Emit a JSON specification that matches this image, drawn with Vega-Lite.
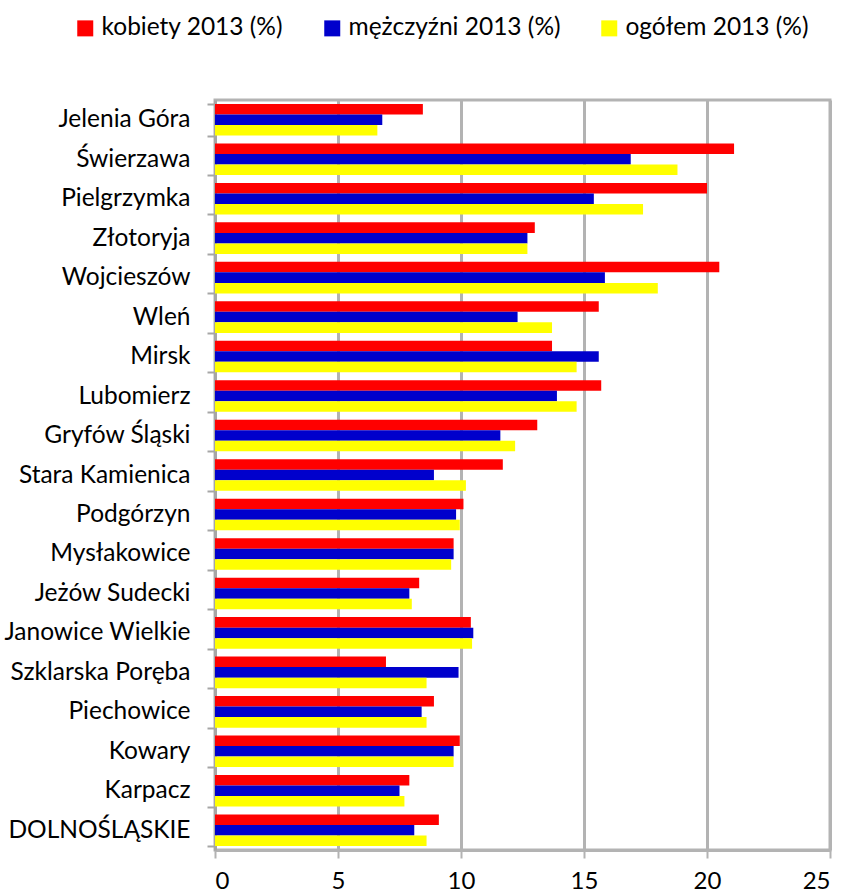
{
  "$schema": "https://vega.github.io/schema/vega-lite/v6.json",
  "width": 615,
  "height": 750,
  "autosize": {"type": "none"},
  "padding": {"left": 215, "top": 100, "right": 25, "bottom": 46},
  "background": "white",
  "config": {
    "font": "Lato",
    "view": {"stroke": "#b3b3b3", "strokeWidth": 3}
  },
  "data": {
    "values": [
      {"gmina": "Jelenia Góra", "series": "kobiety 2013 (%)", "value": 8.45},
      {"gmina": "Jelenia Góra", "series": "mężczyźni 2013 (%)", "value": 6.8},
      {"gmina": "Jelenia Góra", "series": "ogółem 2013 (%)", "value": 6.6},
      {"gmina": "Świerzawa", "series": "kobiety 2013 (%)", "value": 21.1},
      {"gmina": "Świerzawa", "series": "mężczyźni 2013 (%)", "value": 16.9},
      {"gmina": "Świerzawa", "series": "ogółem 2013 (%)", "value": 18.8},
      {"gmina": "Pielgrzymka", "series": "kobiety 2013 (%)", "value": 20.0},
      {"gmina": "Pielgrzymka", "series": "mężczyźni 2013 (%)", "value": 15.4},
      {"gmina": "Pielgrzymka", "series": "ogółem 2013 (%)", "value": 17.4},
      {"gmina": "Złotoryja", "series": "kobiety 2013 (%)", "value": 13.0},
      {"gmina": "Złotoryja", "series": "mężczyźni 2013 (%)", "value": 12.7},
      {"gmina": "Złotoryja", "series": "ogółem 2013 (%)", "value": 12.7},
      {"gmina": "Wojcieszów", "series": "kobiety 2013 (%)", "value": 20.5},
      {"gmina": "Wojcieszów", "series": "mężczyźni 2013 (%)", "value": 15.85},
      {"gmina": "Wojcieszów", "series": "ogółem 2013 (%)", "value": 18.0},
      {"gmina": "Wleń", "series": "kobiety 2013 (%)", "value": 15.6},
      {"gmina": "Wleń", "series": "mężczyźni 2013 (%)", "value": 12.3},
      {"gmina": "Wleń", "series": "ogółem 2013 (%)", "value": 13.7},
      {"gmina": "Mirsk", "series": "kobiety 2013 (%)", "value": 13.7},
      {"gmina": "Mirsk", "series": "mężczyźni 2013 (%)", "value": 15.6},
      {"gmina": "Mirsk", "series": "ogółem 2013 (%)", "value": 14.7},
      {"gmina": "Lubomierz", "series": "kobiety 2013 (%)", "value": 15.7},
      {"gmina": "Lubomierz", "series": "mężczyźni 2013 (%)", "value": 13.9},
      {"gmina": "Lubomierz", "series": "ogółem 2013 (%)", "value": 14.7},
      {"gmina": "Gryfów Śląski", "series": "kobiety 2013 (%)", "value": 13.1},
      {"gmina": "Gryfów Śląski", "series": "mężczyźni 2013 (%)", "value": 11.6},
      {"gmina": "Gryfów Śląski", "series": "ogółem 2013 (%)", "value": 12.2},
      {"gmina": "Stara Kamienica", "series": "kobiety 2013 (%)", "value": 11.7},
      {"gmina": "Stara Kamienica", "series": "mężczyźni 2013 (%)", "value": 8.9},
      {"gmina": "Stara Kamienica", "series": "ogółem 2013 (%)", "value": 10.2},
      {"gmina": "Podgórzyn", "series": "kobiety 2013 (%)", "value": 10.1},
      {"gmina": "Podgórzyn", "series": "mężczyźni 2013 (%)", "value": 9.8},
      {"gmina": "Podgórzyn", "series": "ogółem 2013 (%)", "value": 9.95},
      {"gmina": "Mysłakowice", "series": "kobiety 2013 (%)", "value": 9.7},
      {"gmina": "Mysłakowice", "series": "mężczyźni 2013 (%)", "value": 9.7},
      {"gmina": "Mysłakowice", "series": "ogółem 2013 (%)", "value": 9.6},
      {"gmina": "Jeżów Sudecki", "series": "kobiety 2013 (%)", "value": 8.3},
      {"gmina": "Jeżów Sudecki", "series": "mężczyźni 2013 (%)", "value": 7.9},
      {"gmina": "Jeżów Sudecki", "series": "ogółem 2013 (%)", "value": 8.0},
      {"gmina": "Janowice Wielkie", "series": "kobiety 2013 (%)", "value": 10.4},
      {"gmina": "Janowice Wielkie", "series": "mężczyźni 2013 (%)", "value": 10.5},
      {"gmina": "Janowice Wielkie", "series": "ogółem 2013 (%)", "value": 10.45},
      {"gmina": "Szklarska Poręba", "series": "kobiety 2013 (%)", "value": 6.95},
      {"gmina": "Szklarska Poręba", "series": "mężczyźni 2013 (%)", "value": 9.9},
      {"gmina": "Szklarska Poręba", "series": "ogółem 2013 (%)", "value": 8.6},
      {"gmina": "Piechowice", "series": "kobiety 2013 (%)", "value": 8.9},
      {"gmina": "Piechowice", "series": "mężczyźni 2013 (%)", "value": 8.4},
      {"gmina": "Piechowice", "series": "ogółem 2013 (%)", "value": 8.6},
      {"gmina": "Kowary", "series": "kobiety 2013 (%)", "value": 9.95},
      {"gmina": "Kowary", "series": "mężczyźni 2013 (%)", "value": 9.7},
      {"gmina": "Kowary", "series": "ogółem 2013 (%)", "value": 9.7},
      {"gmina": "Karpacz", "series": "kobiety 2013 (%)", "value": 7.9},
      {"gmina": "Karpacz", "series": "mężczyźni 2013 (%)", "value": 7.5},
      {"gmina": "Karpacz", "series": "ogółem 2013 (%)", "value": 7.7},
      {"gmina": "DOLNOŚLĄSKIE", "series": "kobiety 2013 (%)", "value": 9.1},
      {"gmina": "DOLNOŚLĄSKIE", "series": "mężczyźni 2013 (%)", "value": 8.1},
      {"gmina": "DOLNOŚLĄSKIE", "series": "ogółem 2013 (%)", "value": 8.6}
    ]
  },
  "mark": {"type": "bar", "stroke": null},
  "encoding": {
    "y": {
      "field": "gmina",
      "type": "nominal",
      "sort": null,
      "title": null,
      "scale": {"paddingInner": 0.2, "paddingOuter": 0.1},
      "axis": {
        "tickBand": "extent",
        "domainColor": "#a6a6a6",
        "domainWidth": 3,
        "tickColor": "#a6a6a6",
        "tickWidth": 2,
        "tickSize": 8,
        "labelPadding": 17,
        "labelFontSize": 24.5,
        "labelLimit": 0,
        "labelColor": "#000000",
        "grid": false
      }
    },
    "x": {
      "field": "value",
      "type": "quantitative",
      "title": null,
      "scale": {"domain": [0, 25], "nice": false},
      "axis": {
        "values": [0, 5, 10, 15, 20, 25],
        "grid": true,
        "gridColor": "#b3b3b3",
        "gridWidth": 3,
        "domainColor": "#b3b3b3",
        "domainWidth": 3,
        "tickColor": "#b3b3b3",
        "tickWidth": 2,
        "tickSize": 8,
        "labelPadding": 11,
        "labelFontSize": 24,
        "labelColor": "#000000"
      }
    },
    "yOffset": {
      "field": "series",
      "sort": ["kobiety 2013 (%)", "mężczyźni 2013 (%)", "ogółem 2013 (%)"],
      "scale": {"paddingInner": 0}
    },
    "color": {
      "field": "series",
      "type": "nominal",
      "scale": {
        "domain": ["kobiety 2013 (%)", "mężczyźni 2013 (%)", "ogółem 2013 (%)"],
        "range": ["#ff0000", "#0000cc", "#ffff00"]
      },
      "legend": {
        "title": null,
        "orient": "none",
        "direction": "horizontal",
        "legendX": -142,
        "legendY": -84,
        "symbolType": "square",
        "symbolSize": 256,
        "symbolStrokeWidth": 0,
        "labelFontSize": 24.5,
        "labelLimit": 0,
        "labelColor": "#000000",
        "labelOffset": 4,
        "columnPadding": 36
      }
    }
  }
}
